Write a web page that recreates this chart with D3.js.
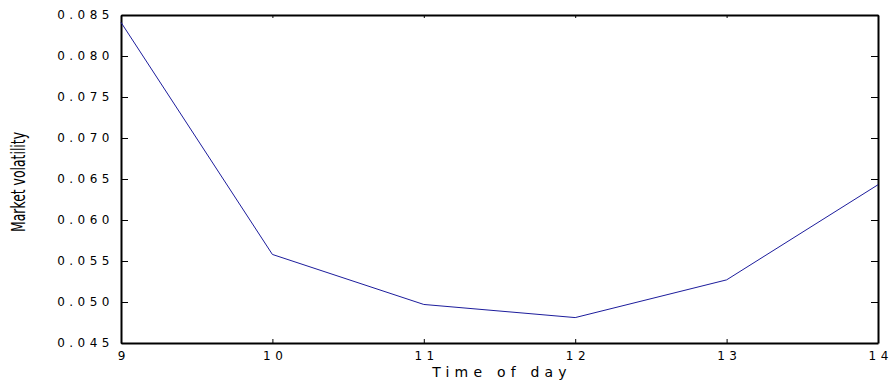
<!DOCTYPE html>
<html>
<head>
<meta charset="utf-8">
<script src="https://cdn.jsdelivr.net/npm/d3@7/dist/d3.min.js"></script>
<style>
  body { margin: 0; background: #fff; }
  svg { display: block; }
  .tick text { font-family: "DejaVu Sans", sans-serif; font-size: 12px; letter-spacing: 4.5px; fill: #000; }
</style>
</head>
<body>
<svg id="chart" width="893" height="388"></svg>
<script>
// данные с графика
const hours = [9, 10, 11, 12, 13, 14];
const volatility = [0.0841, 0.0558, 0.0497, 0.0481, 0.0527, 0.0643];
const yTicks = [0.045, 0.050, 0.055, 0.060, 0.065, 0.070, 0.075, 0.080, 0.085];

const margin = { top: 15, right: 15, bottom: 45, left: 121 };
const width = 893 - margin.left - margin.right;
const height = 388 - margin.top - margin.bottom;

const svg = d3.select('#chart');
const g = svg.append('g')
  .attr('transform', `translate(${margin.left}, ${margin.top})`);

const x = d3.scaleLinear()
  .domain([9, 14])
  .range([0, width]);

const y = d3.scaleLinear()
  .domain([0.045, 0.085])
  .range([height, 0]);

//рамка с внутренними засечками
const styleAxis = sel => {
  sel.select('.domain').attr('stroke', '#000').attr('stroke-width', 2);
  sel.selectAll('.tick line').attr('stroke', '#000').attr('stroke-width', 1);
};

g.append('g')
  .attr('transform', `translate(0, ${height})`)
  .call(d3.axisBottom(x).tickValues(hours).tickFormat(d3.format('d'))
    .tickSizeInner(-4).tickSizeOuter(0).tickPadding(8))
  .call(styleAxis)
  .call(a => a.selectAll('.tick text').attr('dx', '2.25px'));

g.append('g')
  .call(d3.axisTop(x).tickValues(hours).tickFormat('')
    .tickSizeInner(-3).tickSizeOuter(0))
  .call(styleAxis);

g.append('g')
  .call(d3.axisLeft(y).tickValues(yTicks).tickFormat(d3.format('.3f'))
    .tickSizeInner(-7).tickSizeOuter(0).tickPadding(7))
  .call(styleAxis);

g.append('g')
  .attr('transform', `translate(${width}, 0)`)
  .call(d3.axisRight(y).tickValues(yTicks).tickFormat('')
    .tickSizeInner(-7).tickSizeOuter(0))
  .call(styleAxis);

//линия волатильности
const line = d3.line()
  .x((d, i) => x(hours[i]))
  .y(d => y(d));

g.append('path')
  .datum(volatility)
  .attr('d', line)
  .style('fill', 'none')
  .style('stroke', '#1c1c9c')
  .style('stroke-width', 1);

//подписи осей
svg.append('text')
  .attr('x', margin.left + width / 2 + 2.5)
  .attr('y', 377)
  .attr('text-anchor', 'middle')
  .style('font-family', '"DejaVu Sans", sans-serif')
  .style('font-size', '14px')
  .style('letter-spacing', '5.2px')
  .text('Time of day');

svg.append('text')
  .attr('transform', 'translate(25, 182) rotate(-90)')
  .attr('text-anchor', 'middle')
  .attr('textLength', 100)
  .attr('lengthAdjust', 'spacingAndGlyphs')
  .style('font-family', '"DejaVu Sans", sans-serif')
  .style('font-size', '19px')
  .text('Market volatility');
</script>
</body>
</html>
